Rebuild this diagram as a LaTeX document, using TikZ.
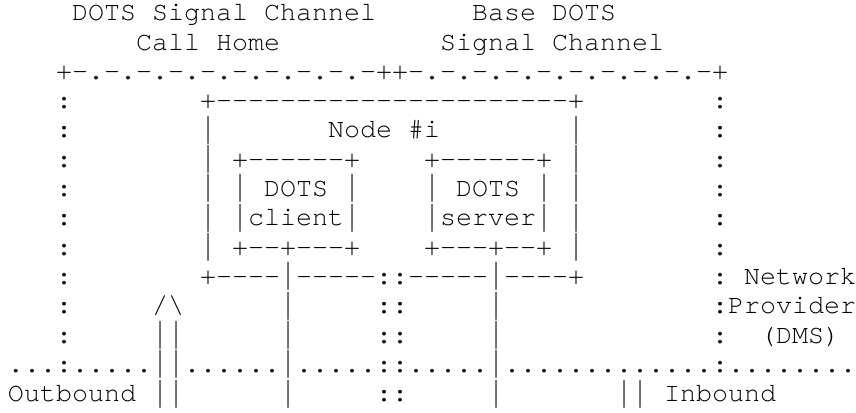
\documentclass[tikz,border=0pt]{standalone}
\usepackage{graphicx}
\usepackage{fontspec}
\newfontfamily\asciifont{texgyrecursor-regular}[Extension=.otf, Ligatures=TeXOff]
% a '|' glyph stretched to (almost) the full line pitch, as in the reference font
\newcommand\tallbar{\raisebox{-6.2pt}[12pt][0pt]{\resizebox*{\width}{27.9pt}{\raisebox{\depth}{|}}}}
\tikzset{
  asc/.style={anchor=base west, inner sep=0pt, outer sep=0pt,
    font=\asciifont\fontsize{26.667pt}{30pt}\selectfont, text=black}
}
\begin{document}
\begin{tikzpicture}[x=16pt, y=-29.3pt]
\fill[white] (0,0) rectangle (53.5,14.0614);
\useasboundingbox (0,0) rectangle (53.5,14.0614);
\begin{scope}[shift={(0.5,0.7065)}]
% titles
\node[asc] (titleA1) at (4,0) {DOTS Signal Channel};
\node[asc] (titleB1) at (29,0) {Base DOTS};
\node[asc] (titleA2) at (8,1) {Call Home};
\node[asc] (titleB2) at (27,1) {Signal Channel};
% top border of the two channels
\node[asc] (topL) at (3,2) {+-.-.-.-.-.-.-.-.-.-+};
\node[asc] (topR) at (24,2) {+-.-.-.-.-.-.-.-.-.-+};
% outer dotted sides
\foreach \r in {3,...,11} \node[asc] (lc\r) at (3,\r) {:};
\foreach \r in {3,...,8} \node[asc] (rc\r) at (44,\r) {:};
% Node #i box
\node[asc] (nodeTop) at (12,3) {+----------------------+};
\foreach \r in {4,...,8} {
  \node[asc] (nodeL\r) at (12,\r) {\tallbar};
  \node[asc] (nodeR\r) at (35,\r) {\tallbar};
}
\node[asc] (nodeLabel) at (20,4) {Node \#i};
% DOTS client
\node[asc] (cli1) at (14,5) {+------+};
\node[asc] (cli2) at (14,6) {\tallbar{} DOTS \tallbar};
\node[asc] (cli3) at (14,7) {\tallbar{}client\tallbar};
\node[asc] (cli4) at (14,8) {+--+---+};
% DOTS server
\node[asc] (srv1) at (26,5) {+------+};
\node[asc] (srv2) at (26,6) {\tallbar{} DOTS \tallbar};
\node[asc] (srv3) at (26,7) {\tallbar{}server\tallbar};
\node[asc] (srv4) at (26,8) {+---+--+};
% bottom of Node #i
\node[asc] (nodeBot) at (12,9) {+----\tallbar{}-----::-----\tallbar{}----+};
\node[asc] (rc9) at (44,9) {:};
\node[asc] (net1) at (46,9) {Network};
% row 10
\node[asc] (arrowHead) at (9,10) {/\textbackslash};
\node[asc] (cliLine10) at (17,10) {\tallbar};
\node[asc] (sep10) at (23,10) {::};
\node[asc] (srvLine10) at (30,10) {\tallbar};
\node[asc] (net2) at (44,10) {:Provider};
% row 11
\node[asc] (arrowBody11) at (9,11) {\tallbar\tallbar};
\node[asc] (cliLine11) at (17,11) {\tallbar};
\node[asc] (sep11) at (23,11) {::};
\node[asc] (srvLine11) at (30,11) {\tallbar};
\node[asc] (rc11) at (44,11) {:};
\node[asc] (net3) at (47,11) {(DMS)};
% row 12: network boundary
\node[asc] (boundary) at (0,12) {...:.....\tallbar\tallbar{}......\tallbar{}.....::.....\tallbar{}.............:........};
% row 13
\node[asc] (outbound) at (0,13) {Outbound};
\node[asc] (arrowBody13) at (9,13) {\tallbar\tallbar};
\node[asc] (cliLine13) at (17,13) {\tallbar};
\node[asc] (sep13) at (23,13) {::};
\node[asc] (srvLine13) at (30,13) {\tallbar};
\node[asc] (inArrow) at (38,13) {\tallbar\tallbar};
\node[asc] (inbound) at (41,13) {Inbound};
\end{scope}
\end{tikzpicture}
\end{document}
